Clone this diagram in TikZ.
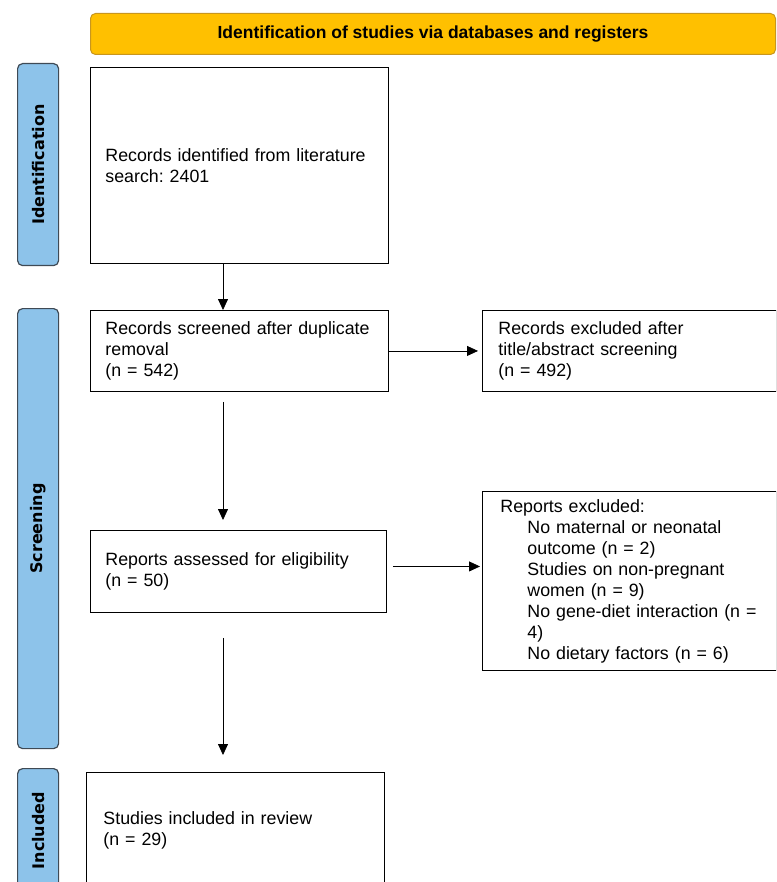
\documentclass[tikz,border=0pt]{standalone}
\usepackage{fontspec}
\setmainfont{Liberation Sans}
\newfontfamily\stagefont{DejaVu Sans}
\frenchspacing
\usetikzlibrary{arrows.meta}
\definecolor{headfill}{HTML}{FFC000}
\definecolor{headline}{HTML}{C8961E}
\definecolor{stagefill}{HTML}{8DC3EA}
\definecolor{stageline}{HTML}{3F4A55}
\tikzset{
  stagebox/.style={draw=stageline, line width=1.2pt, fill=stagefill, rounded corners=5pt,
    anchor=north west, minimum width=41, inner sep=0pt},
  stagetext/.style={rotate=90, font=\stagefont\fontsize{16}{18}\selectfont\bfseries},
  flowbox/.style={draw, line width=0.9pt, anchor=north west, inner sep=0pt,
    text width=#1, align=left, font=\fontsize{17.8}{21}\selectfont},
  flowarrow/.style={-{Triangle[length=11pt,width=10pt]}, line width=0.8pt}
}
\begin{document}
\begin{tikzpicture}[x=1pt, y=-1pt]
            \useasboundingbox (0,0) rectangle (776,882);
            \clip (0,0) rectangle (776,882);
            % header
            \node[draw=headline, line width=1pt, fill=headfill, rounded corners=5pt,
              anchor=north west, minimum width=685, minimum height=41, inner sep=0pt,
              font=\fontsize{17.5}{19}\selectfont\bfseries] (head) at (90,13)
              {Identification of studies via databases and registers};
            % stage labels
            \node[stagebox, minimum height=202] (ident) at (17,63) {};
            \node[stagetext] at (ident.center) {Identification};
            \node[stagebox, minimum height=440] (screen) at (17,308) {};
            \node[stagetext] at (screen.center) {Screening};
            \node[stagebox, minimum height=124] (incl) at (17,768) {};
            \node[stagetext] at (incl.center) {Included};
            % boxes
            \coordinate (spine) at (223,0);
            \node[flowbox=298pt, minimum height=196] (found) at (90,67)
              {\hspace*{15pt}\parbox{280pt}{Records identified from literature\\search: 2401}};
            \node[flowbox=298pt, minimum height=81] (screened) at (90,310)
              {\hspace*{15pt}\parbox{280pt}{Records screened after duplicate\\removal\\(n = 542)}};
            \node[flowbox=294pt, minimum height=81] (excl) at (482,310)
              {\hspace*{16pt}\parbox{275pt}{Records excluded after\\title/abstract screening\\(n = 492)}};
            \node[flowbox=296pt, minimum height=82] (assessed) at (90,530)
              {\hspace*{15pt}\parbox{280pt}{Reports assessed for eligibility\\(n = 50)}};
            \node[flowbox=294pt, minimum height=179] (rexcl) at (482,491)
              {\hspace*{18pt}\parbox{275pt}{Reports excluded:\\
                \hspace*{27pt}\parbox[t]{248pt}{No maternal or neonatal\\outcome (n = 2)\\Studies on non-pregnant\\women (n = 9)\\No gene-diet interaction (n =\\4)\\No dietary factors (n = 6)}}};
            \node[flowbox=298pt, minimum height=116] (incl box) at (86,772)
              {\hspace*{17pt}\parbox{280pt}{Studies included in review\\(n = 29)}};
            % arrows
            \draw[flowarrow] (found.south -| spine) -- (screened.north -| spine);
            \draw[flowarrow] (screened.east) -- ([xshift=-4]excl.west |- screened.east);
            \draw[flowarrow, shorten <=10pt, shorten >=10pt] (screened.south -| spine) -- (assessed.north -| spine);
            \draw[flowarrow, shorten <=6pt, shorten >=2pt] ([yshift=5]assessed.east) -- ([yshift=5]assessed.east -| rexcl.west);
            \draw[flowarrow, shorten <=25pt, shorten >=17pt] (assessed.south -| spine) -- (incl box.north -| spine);
          \end{tikzpicture}
\end{document}
